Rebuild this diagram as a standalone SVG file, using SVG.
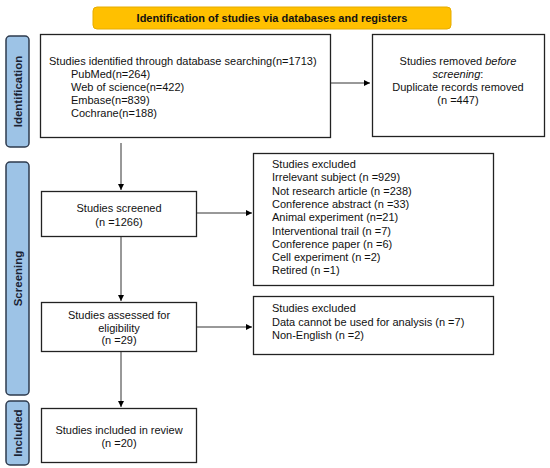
<svg xmlns="http://www.w3.org/2000/svg" width="550" height="468" viewBox="0 0 550 468">
<defs>
<marker id="arr" viewBox="0 0 10 10" refX="10" refY="5" markerWidth="6" markerHeight="6" markerUnits="userSpaceOnUse" orient="auto">
<path d="M0,0 L10,5 L0,10 z" fill="#000"/>
</marker>
<style>
.box{fill:#fff;stroke:#222;stroke-width:1.3}
.side{fill:#9dc3e6;stroke:#2e3b4e;stroke-width:1.5}
.t{font-family:"Liberation Sans",Arial,sans-serif;font-size:11px;fill:#111}
.c{text-anchor:middle}
.sl{font-family:"Liberation Sans",Arial,sans-serif;font-size:11.5px;font-weight:bold;fill:#1a2233;text-anchor:middle}
.line{stroke:#333;stroke-width:1;fill:none;marker-end:url(#arr)}
</style>
</defs>
<rect width="550" height="468" fill="#fff"/>
<g id="banner">
<rect x="93" y="7" width="358" height="22" rx="4" fill="#ffc000" stroke="#e6ac00" stroke-width="1"/>
<text class="t c" x="272" y="22" style="font-weight:bold;font-size:11px">Identification of studies via databases and registers</text>
</g>
<g id="label-identification">
<rect class="side" x="6" y="36" width="23" height="111" rx="4"/>
<text class="sl" transform="translate(21.5,91.5) rotate(-90)">Identification</text>
</g>
<g id="label-screening">
<rect class="side" x="6" y="162" width="23" height="233" rx="4"/>
<text class="sl" transform="translate(21.5,278.5) rotate(-90)">Screening</text>
</g>
<g id="label-included">
<rect class="side" x="6" y="401" width="23" height="64" rx="4"/>
<text class="sl" transform="translate(21.5,433) rotate(-90)">Included</text>
</g>
<g id="identified">
<rect class="box" x="40.5" y="34.5" width="290" height="103"/>
<text class="t" x="49" y="65">Studies identified through database searching(n=1713)</text>
<text class="t" x="71" y="78">PubMed(n=264)</text>
<text class="t" x="71" y="91">Web of science(n=422)</text>
<text class="t" x="71" y="104">Embase(n=839)</text>
<text class="t" x="71" y="117">Cochrane(n=188)</text>
</g>
<g id="removed">
<rect class="box" x="372.5" y="34.5" width="172" height="102"/>
<text class="t c" x="458" y="65">Studies removed <tspan font-style="italic">before</tspan></text>
<text class="t c" x="458" y="78"><tspan font-style="italic">screening</tspan>:</text>
<text class="t c" x="458" y="91">Duplicate records removed</text>
<text class="t c" x="458" y="104">(n =447)</text>
</g>
<g id="screened">
<rect class="box" x="41.5" y="191.5" width="155" height="45"/>
<text class="t c" x="119" y="212">Studies screened</text>
<text class="t c" x="119" y="226">(n =1266)</text>
</g>
<g id="excluded1">
<rect class="box" x="253.5" y="153.5" width="240" height="132"/>
<text class="t" x="272" y="168">Studies excluded</text>
<text class="t" x="272" y="181.3">Irrelevant subject (n =929)</text>
<text class="t" x="272" y="194.6">Not research article (n =238)</text>
<text class="t" x="272" y="207.9">Conference abstract (n =33)</text>
<text class="t" x="272" y="221.2">Animal experiment (n=21)</text>
<text class="t" x="272" y="234.5">Interventional trail (n =7)</text>
<text class="t" x="272" y="247.8">Conference paper (n =6)</text>
<text class="t" x="272" y="261.1">Cell experiment (n =2)</text>
<text class="t" x="272" y="274.4">Retired (n =1)</text>
</g>
<g id="assessed">
<rect class="box" x="41.5" y="302.5" width="155" height="49"/>
<text class="t c" x="119" y="319">Studies assessed for</text>
<text class="t c" x="119" y="331.5">eligibility</text>
<text class="t c" x="119" y="344">(n =29)</text>
</g>
<g id="excluded2">
<rect class="box" x="253.5" y="296.5" width="240" height="58"/>
<text class="t" x="272" y="312">Studies excluded</text>
<text class="t" x="272" y="325.5">Data cannot be used for analysis (n =7)</text>
<text class="t" x="272" y="339">Non-English (n =2)</text>
</g>
<g id="included">
<rect class="box" x="41.5" y="408.5" width="155" height="54"/>
<text class="t c" x="119" y="434">Studies included in review</text>
<text class="t c" x="119" y="447">(n =20)</text>
</g>
<g id="connectors">
<line class="line" x1="331" y1="83" x2="370" y2="83"/>
<line class="line" x1="121" y1="143" x2="121" y2="190"/>
<line class="line" x1="197" y1="213" x2="252" y2="213"/>
<line class="line" x1="121" y1="237" x2="121" y2="301"/>
<line class="line" x1="197" y1="327" x2="252" y2="327"/>
<line class="line" x1="121" y1="352" x2="121" y2="407"/>
</g>
</svg>
